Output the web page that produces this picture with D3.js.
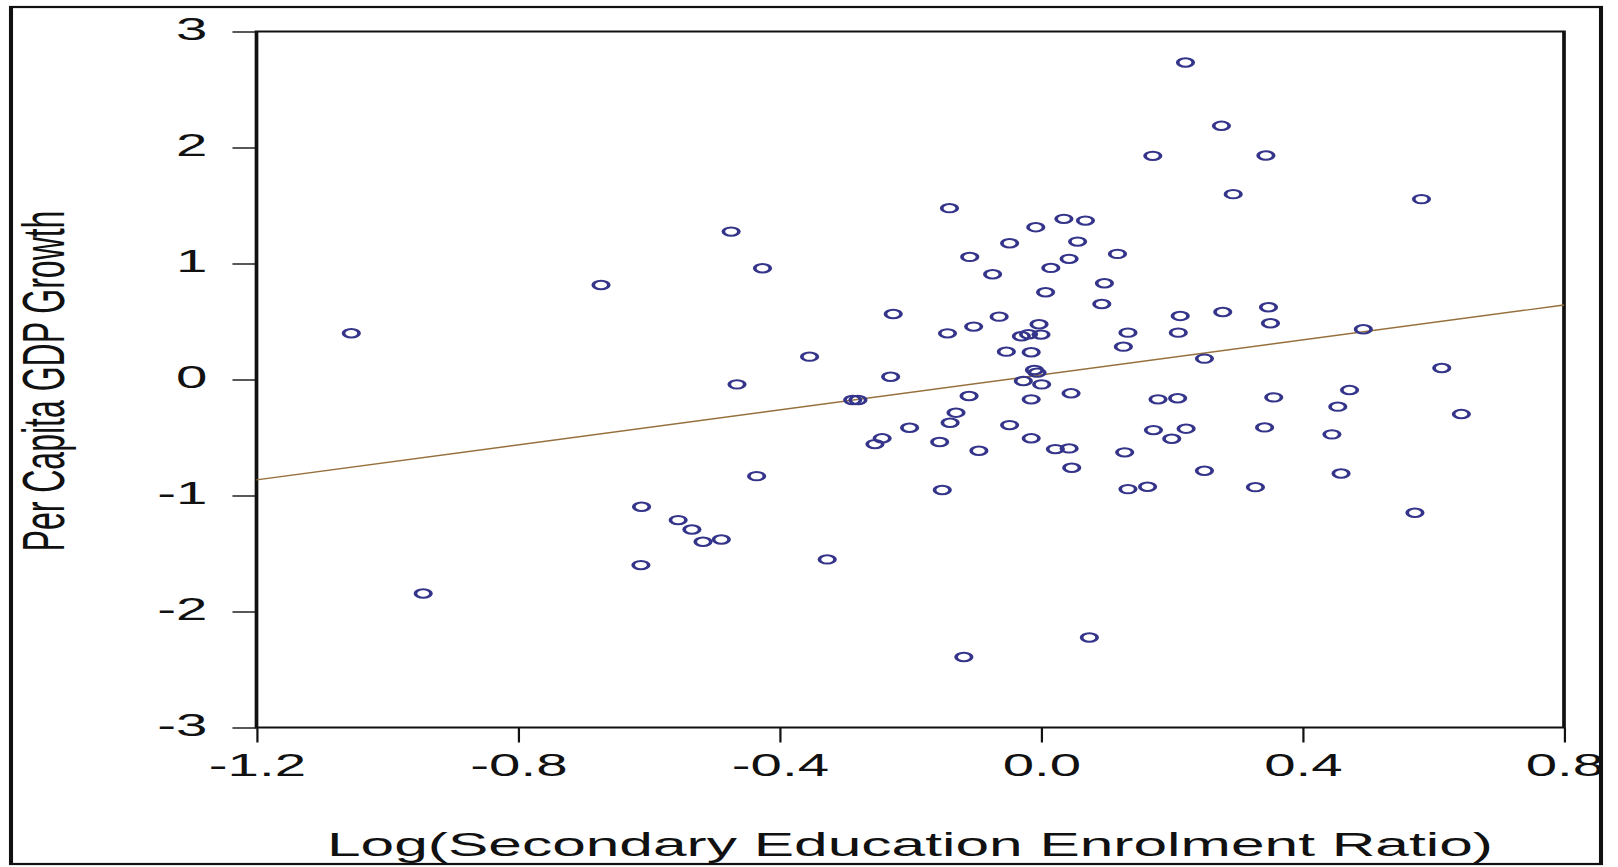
<!DOCTYPE html>
<html>
<head>
<meta charset="utf-8">
<script src="https://cdn.jsdelivr.net/npm/d3@7"></script>
<style>
  html, body { margin: 0; padding: 0; background: #fff; overflow: hidden; }
</style>
</head>
<body>
<svg id="chart" width="1618" height="867"></svg>
<script>
// Log secondary enrolment ratio (x) and per capita GDP growth (y), one entry per country
const enrolmentLog = [
  -1.055, -0.945, -0.673, -0.611, -0.612, -0.555, -0.534, -0.517, -0.489, -0.474,
  -0.465, -0.435, -0.426, -0.354, -0.327, -0.288, -0.280, -0.254, -0.243, -0.230,
  -0.226, -0.201, -0.155, -0.151, -0.143, -0.140, -0.139, -0.130, -0.118, -0.110,
  -0.109, -0.103, -0.095, -0.074, -0.064, -0.053, -0.048, -0.048, -0.030, -0.019,
  -0.015, -0.015, -0.015, -0.010, -0.006, -0.008, -0.003, 0.000, -0.027, 0.001,
  0.007, 0.015, 0.022, 0.035, 0.043, 0.043, 0.046, 0.047, 0.056, 0.068,
  0.074, 0.093, 0.097, 0.117, 0.126, 0.128, 0.133, 0.133, 0.163, 0.171,
  0.172, 0.179, 0.200, 0.209, 0.210, 0.213, 0.221, 0.222, 0.250, 0.250,
  0.276, 0.278, 0.294, 0.328, 0.342, 0.344, 0.348, 0.351, 0.356, 0.445,
  0.454, 0.459, 0.472, 0.493, 0.572, 0.582, 0.613, 0.643
];
const gdpGrowth = [
  0.399, -1.845, 0.815, -1.097, -1.600, -1.212, -1.293, -1.399, -1.379, 1.275,
  -0.042, -0.833, 0.959, 0.197, -1.551, -0.177, -0.177, -0.557, -0.507, 0.024,
  0.565, -0.416, -0.539, -0.953, 0.398, 1.477, -0.373, -0.286, -2.392, -0.142,
  1.057, 0.456, -0.614, 0.907, 0.542, 0.240, 1.175, -0.393, 0.373, 0.390,
  0.235, -0.171, -0.507, 0.082, 0.059, 1.313, 0.476, 0.387, -0.013, -0.042,
  0.752, 0.962, -0.600, 1.385, 1.040, -0.594, -0.119, -0.761, 1.189, 1.370,
  -2.224, 0.651, 0.830, 1.083, 0.283, -0.628, 0.404, -0.945, -0.925, 1.928,
  -0.436, -0.171, -0.511, -0.162, 0.404, 0.548, 2.733, -0.424, 0.180, -0.787,
  2.187, 0.582, 1.598, -0.928, -0.413, 1.931, 0.623, 0.485, -0.154, -0.473,
  -0.234, -0.810, -0.091, 0.433, -1.149, 1.555, 0.099, -0.298
];
// Least-squares fit: [intercept, slope]
const fitCoefficients = [0.039, 0.754];

const xTickValues = [-1.2, -0.8, -0.4, 0.0, 0.4, 0.8];
const xTickLabels = ["-1.2", "-0.8", "-0.4", "0.0", "0.4", "0.8"];
const yTickValues = [-3, -2, -1, 0, 1, 2, 3];
const yTickLabels = ["-3", "-2", "-1", "0", "1", "2", "3"];

const xTitle = "Log(Secondary Education Enrolment Ratio)";
const yTitle = "Per Capita GDP Growth";

// ---- layout ----
const W = 1618, H = 867;
const SX = 1.85;                    // horizontal stretch of the whole figure
const FONT = "'Liberation Sans', Arial, Helvetica, sans-serif";
const INK = "#111";

const svg = d3.select("#chart");
svg.append("rect").attr("width", W).attr("height", H).attr("fill", "#fff");

const g = svg.append("g").attr("transform", `scale(${SX},1)`);

const x = d3.scaleLinear().domain([-1.2, 0.8]).range([256.5 / SX, 1564 / SX]);
const y = d3.scaleLinear().domain([-3, 3]).range([727.5, 31.5]);

// outer frame
g.append("rect")
  .attr("x", 11 / SX).attr("y", 7)
  .attr("width", (1601 - 11) / SX).attr("height", 857)
  .attr("fill", "none").attr("stroke", INK).attr("stroke-width", 2.2);

// y axis
const yAxis = d3.axisLeft(y)
  .tickValues(yTickValues)
  .tickFormat((d, i) => yTickLabels[i])
  .tickSize(13).tickSizeOuter(0).tickPadding(13.5);
const ya = g.append("g").attr("transform", `translate(${x(-1.2)},0)`).call(yAxis);
ya.select(".domain").remove();
ya.selectAll(".tick line").attr("stroke", INK).attr("stroke-width", 1.4);
ya.selectAll(".tick text")
  .attr("font-family", FONT).attr("font-size", 30.5)
  .attr("fill", INK).attr("dy", "0.26em");

// x axis
const xAxis = d3.axisBottom(x)
  .tickValues(xTickValues)
  .tickFormat((d, i) => xTickLabels[i])
  .tickSize(15).tickSizeOuter(0).tickPadding(11.5);
const xa = g.append("g").attr("transform", `translate(0,${y(-3)})`).call(xAxis);
xa.select(".domain").remove();
xa.selectAll(".tick line").attr("stroke", INK).attr("stroke-width", 1.2);
xa.selectAll(".tick text")
  .attr("font-family", FONT).attr("font-size", 30.5).attr("fill", INK);

// plot box
g.append("rect")
  .attr("x", x(-1.2)).attr("y", y(3))
  .attr("width", x(0.8) - x(-1.2)).attr("height", y(-3) - y(3))
  .attr("fill", "none").attr("stroke", INK).attr("stroke-width", 2);

// fitted line
const [b0, b1] = fitCoefficients;
g.append("path")
  .datum(x.domain())
  .attr("d", d3.line().x(d => x(d)).y(d => y(b0 + b1 * d)))
  .attr("fill", "none").attr("stroke", "#96703c").attr("stroke-width", 1.4);

// data points
g.append("g").selectAll("circle")
  .data(d3.zip(enrolmentLog, gdpGrowth))
  .join("circle")
  .attr("cx", d => x(d[0]))
  .attr("cy", d => y(d[1]))
  .attr("r", 4.2)
  .attr("fill", "none")
  .attr("stroke", "#34348a")
  .attr("stroke-width", 2);

// axis titles
g.append("text")
  .attr("x", 910 / SX).attr("y", 856)
  .attr("text-anchor", "middle")
  .attr("font-family", FONT).attr("font-size", 32.5).attr("fill", INK)
  .attr("textLength", 1166 / SX).attr("lengthAdjust", "spacingAndGlyphs")
  .text(xTitle);

g.append("text")
  .attr("transform", `translate(${64 / SX},381) rotate(-90)`)
  .attr("text-anchor", "middle")
  .attr("font-family", FONT).attr("font-size", 32).attr("fill", INK)
  .text(yTitle);
</script>
</body>
</html>
